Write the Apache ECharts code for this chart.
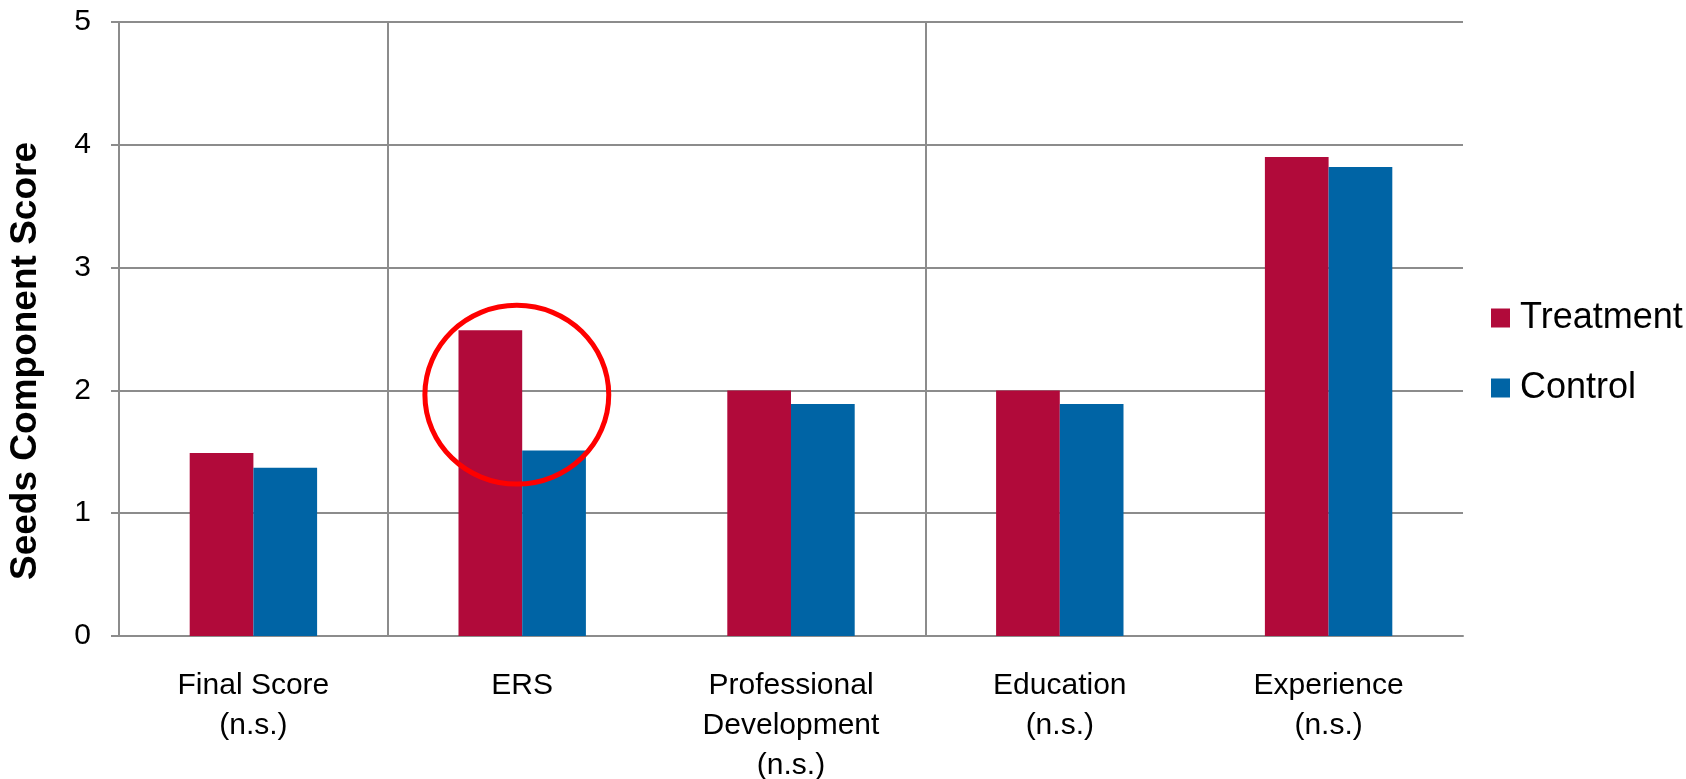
<!DOCTYPE html>
<html>
<head>
<meta charset="utf-8">
<script src="https://cdn.jsdelivr.net/npm/echarts@6/dist/echarts.min.js"></script>
<style>
html,body{margin:0;padding:0;background:#fff;}
#chart{width:1686px;height:779px;}
</style>
</head>
<body>
<div id="chart"></div>
<script>
const categories = ['Final Score\n(n.s.)', 'ERS', 'Professional\nDevelopment\n(n.s.)', 'Education\n(n.s.)', 'Experience\n(n.s.)'];
const treatment = [1.49, 2.49, 2.0, 2.0, 3.9];
const control = [1.37, 1.51, 1.89, 1.89, 3.82];
const seriesNames = ['Treatment', 'Control'];
const yMin = 0, yMax = 5, yStep = 1;
const yAxisTitle = 'Seeds Component Score';
// highlight ellipse around the ERS pair (category index, value centre, half-sizes in category widths / value units)
const highlight = { category: 1, offset: -0.02, value: 1.965, rxCat: 0.342, ryVal: 0.728 };

const FONT = '"Liberation Sans", Arial, sans-serif';
const GRAY = '#8c8c8c';
const NONE = 'rgba(0,0,0,0)';

const chart = echarts.init(document.getElementById('chart'));
chart.setOption({
  animation: false,
  backgroundColor: '#ffffff',
  textStyle: { fontFamily: FONT },
  grid: { left: 119, right: 223, top: 22, bottom: 143, containLabel: false, outerBoundsMode: 'none' },
  legend: {
    data: seriesNames,
    orient: 'vertical',
    left: 1486,
    top: 295,
    icon: 'rect',
    itemWidth: 19,
    itemHeight: 19,
    itemGap: 34,
    textStyle: { fontSize: 36, color: '#000', fontFamily: FONT, lineHeight: 36, padding: [0, 0, 0, 5] }
  },
  xAxis: {
    type: 'category',
    data: categories,
    boundaryGap: true,
    axisLine: { show: true, lineStyle: { color: GRAY, width: 2 } },
    axisTick: { show: false },
    axisLabel: { interval: 0, fontSize: 30, color: '#000', fontFamily: FONT, lineHeight: 40, margin: 30 },
    splitLine: { show: true, interval: 0, lineStyle: { color: [NONE, GRAY, NONE, GRAY, NONE, NONE], width: 2 } }
  },
  yAxis: {
    type: 'value',
    min: yMin, max: yMax, interval: yStep,
    name: yAxisTitle,
    nameLocation: 'middle',
    nameGap: 75,
    nameTextStyle: { fontSize: 37, fontWeight: 'bold', color: '#000', fontFamily: FONT, padding: [0, 64, 0, 0] },
    axisLine: { show: true, lineStyle: { color: GRAY, width: 2 } },
    axisTick: { show: true, length: 8, lineStyle: { color: GRAY, width: 2 } },
    axisLabel: { fontSize: 30, color: '#000', fontFamily: FONT, margin: 28 },
    splitLine: { show: true, lineStyle: { color: GRAY, width: 2 } }
  },
  series: [
    { name: seriesNames[0], type: 'bar', data: treatment, barGap: '0%', barCategoryGap: '52.6%', itemStyle: { color: '#B10A3A' } },
    { name: seriesNames[1], type: 'bar', data: control, barGap: '0%', barCategoryGap: '52.6%', itemStyle: { color: '#0064A5' } }
  ]
});

function drawHighlight() {
  const p0 = chart.convertToPixel({ gridIndex: 0 }, [highlight.category, highlight.value]);
  const p1 = chart.convertToPixel({ gridIndex: 0 }, [highlight.category + 1, highlight.value]);
  const u0 = chart.convertToPixel({ gridIndex: 0 }, [highlight.category, 0]);
  const u1 = chart.convertToPixel({ gridIndex: 0 }, [highlight.category, 1]);
  const catW = p1[0] - p0[0];
  const unit = u0[1] - u1[1];
  chart.setOption({
    graphic: [{
      type: 'ellipse',
      z: 100,
      shape: { cx: p0[0] + highlight.offset * catW, cy: p0[1], rx: highlight.rxCat * catW, ry: highlight.ryVal * unit },
      style: { fill: 'none', stroke: '#FF0000', lineWidth: 5 }
    }]
  });
}
drawHighlight();
</script>
</body>
</html>
